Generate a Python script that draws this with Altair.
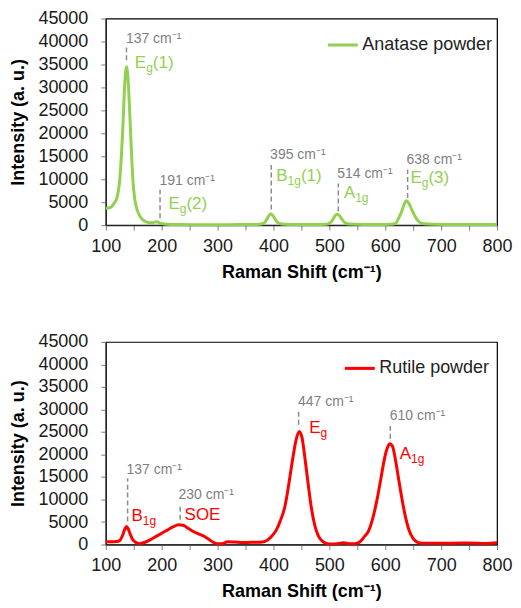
import altair as alt
import pandas as pd

FONT = "Liberation Sans"

# ---------------- data ----------------
ana_x = [100, 105, 110, 115, 120, 125, 130, 134, 137, 140,
         143, 147, 150, 155, 160, 165, 170, 175, 180, 185,
         191, 197, 205, 215, 230, 260, 300, 340, 370, 380,
         385, 390, 395, 400, 405, 410, 420, 440, 480, 495,
         500, 505, 510, 514, 518, 523, 528, 535, 560, 600,
         615, 620, 625, 630, 634, 638, 642, 647, 652, 657,
         662, 670, 690, 720, 760, 800]
ana_y = [3700, 3750, 4000, 4800, 6000, 10000, 20000, 31000, 34500, 31500,
         24000, 13000, 7500, 3800, 2200, 1300, 850, 600, 500, 550,
         750, 450, 250, 150, 120, 100, 100, 120, 150, 300,
         700, 1700, 2500, 1900, 900, 400, 200, 150, 150, 200,
         400, 1000, 2000, 2400, 2100, 1200, 500, 250, 150, 150,
         250, 600, 1800, 3200, 4600, 5300, 4800, 3500, 2200, 1200,
         600, 300, 200, 150, 150, 150]

rut_x = [100, 110, 120, 125, 130, 134, 137, 140, 144, 148,
         153, 160, 170, 180, 190, 200, 210, 220, 230, 238,
         245, 255, 265, 275, 285, 292, 300, 308, 318, 330,
         345, 360, 375, 385, 395, 405, 412, 420, 425, 430,
         435, 440, 446, 451, 456, 462, 468, 474, 480, 488,
         496, 505, 515, 525, 535, 545, 555, 563, 570, 578,
         585, 592, 598, 603, 608, 613, 618, 624, 629, 635,
         642, 650, 658, 665, 690, 720, 750, 780, 800]
rut_y = [600, 600, 650, 900, 2000, 3400, 4000, 3500, 2200, 1100,
         500, 200, 500, 1100, 1800, 2500, 3200, 3900, 4400, 4300,
         3800, 3000, 2400, 1900, 1100, 500, 150, 150, 600, 550,
         450, 500, 500, 700, 1600, 3200, 5200, 8200, 11500, 15500,
         19500, 23000, 25100, 23800, 19500, 13500, 8000, 4200, 2000, 700,
         200, 100, 200, 400, 200, 150, 600, 1800, 3000, 6000,
         9800, 14500, 18700, 21200, 22400, 21800, 19000, 14500, 10800, 6800,
         3400, 1300, 500, 300, 300, 300, 350, 250, 400]

# annotations (anatase)
ana_line_x = [137, 197, 396, 516, 640]
ana_line_lo = [35900, 1500, 3400, 3000, 5900]
ana_line_hi = [38700, 7700, 13100, 9100, 12100]
ana_wn = ["137", "191", "395", "514", "638"]
ana_wn_x = [136, 196, 394, 514, 638]
ana_wn_y = [40600, 9700, 15300, 11250, 14300]
ana_mode_base = ["E", "E", "B", "A", "E"]
ana_mode_sub = ["g", "g", "1g", "1g", "g"]
ana_mode_suf = ["(1)", "\u00a0(2)", "(1)", "", "\u00a0(3)"]
ana_mode_x = [152, 212, 405, 526, 645]
ana_mode_y = [35300, 4500, 10750, 6950, 10200]

# annotations (rutile)
rut_line_x = [139, 233, 445, 609]
rut_line_lo = [5100, 5500, 26600, 23500]
rut_line_hi = [14700, 8450, 30000, 26300]
rut_wn = ["137", "230", "447", "610"]
rut_wn_x = [137, 230, 444, 608]
rut_wn_y = [16500, 10900, 31600, 28500]
rut_mode_base = ["B", "SOE", "E", "A"]
rut_mode_sub = ["1g", "", "g", "1g"]
rut_mode_suf = ["", "", "", ""]
rut_mode_x = [146, 241, 464, 626]
rut_mode_y = [6250, 6600, 25900, 20200]

GREEN = "#92D050"
RED = "#FF0000"
GRAY = "#7F7F7F"

W_EM = {"E": 0.667, "B": 0.667, "A": 0.667, "S": 0.667, "O": 0.778,
        "g": 0.556, "1": 0.556, "(": 0.333, ")": 0.333, "\u00a0": 0.278}


def tw(s, size):
    return sum(W_EM.get(c, 0.556) for c in s) * size


X_SCALE = alt.Scale(domain=[100, 800], nice=False, zero=False)
Y_SCALE = alt.Scale(domain=[0, 45000], nice=False)

AX_COMMON = dict(labelFont=FONT, titleFont=FONT, labelFontSize=18,
                 titleFontSize=18, titleFontWeight="bold",
                 labelColor="#1A1A1A", titleColor="#000000",
                 domainColor="#262626", domainWidth=1.2, tickColor="#808080",
                 tickSize=5, tickWidth=1, grid=False)

x_axis = alt.Axis(title="Raman Shift (cm\u207b\u00b9)",
                  values=list(range(100, 801, 50)),
                  labelExpr="datum.value % 100 == 0 ? datum.label : ''",
                  labelPadding=7, titlePadding=8, labelOverlap=False,
                  labelFlush=False, **AX_COMMON)
y_axis = alt.Axis(title="Intensity (a. u.)",
                  values=list(range(0, 45001, 5000)), format="d",
                  labelPadding=13, titlePadding=10, labelOverlap=False,
                  labelFlush=False, **AX_COMMON)


def X(f):
    return alt.X(f, type="quantitative", scale=X_SCALE, axis=x_axis)


def Y(f):
    return alt.Y(f, type="quantitative", scale=Y_SCALE, axis=y_axis)


def panel(xs, ys, name, color, field, lx, llo, lhi, wn, wnx, wny,
          mbase, msub, msuf, mx, my, height, legx, legy):
    df = pd.DataFrame({"x": xs, "y": ys, field: [name] * len(xs)})
    line = alt.Chart(df).mark_line(strokeWidth=3, interpolate="monotone").encode(
        x=X("x"),
        y=Y("y"),
        color=alt.Color(f"{field}:N",
                        scale=alt.Scale(domain=[name], range=[color]),
                        legend=alt.Legend(title=None, orient="none",
                                          legendX=legx, legendY=legy,
                                          symbolType="stroke", symbolSize=900,
                                          symbolStrokeWidth=3,
                                          labelFontSize=18, labelFont=FONT,
                                          labelColor="#222222",
                                          labelOffset=3, padding=0)),
    )
    layers = [line]
    dl = pd.DataFrame({"x": lx, "y": llo, "hi": lhi})
    layers.append(alt.Chart(dl).mark_rule(color="#8C8C8C", strokeDash=[5, 3],
                                          strokeWidth=1.5).encode(
        x=X("x"), y=Y("y"), y2="hi:Q"))
    dw = pd.DataFrame({"x": wnx, "y": wny,
                       "t": [f"{s} cm\u207b\u00b9" for s in wn]})
    layers.append(alt.Chart(dw).mark_text(align="left", baseline="middle",
                                          font=FONT, fontSize=14,
                                          color=GRAY).encode(
        x=X("x"), y=Y("y"), text="t:N"))
    BS, SS = 17, 12
    for i in range(len(mbase)):
        d = pd.DataFrame({"x": [mx[i]], "y": [my[i]], "b": [mbase[i]],
                          "s": [msub[i]], "u": [msuf[i]]})
        base_w = tw(mbase[i], BS)
        layers.append(alt.Chart(d).mark_text(align="left", baseline="middle",
                                             font=FONT, fontSize=BS,
                                             color=color).encode(
            x=X("x"), y=Y("y"), text="b:N"))
        if msub[i]:
            layers.append(alt.Chart(d).mark_text(align="left", baseline="middle",
                                                 font=FONT, fontSize=SS,
                                                 dx=base_w, dy=5,
                                                 color=color).encode(
                x=X("x"), y=Y("y"), text="s:N"))
        if msuf[i]:
            layers.append(alt.Chart(d).mark_text(align="left", baseline="middle",
                                                 font=FONT, fontSize=BS,
                                                 dx=base_w + tw(msub[i], SS),
                                                 color=color).encode(
                x=X("x"), y=Y("y"), text="u:N"))
    return alt.layer(*layers).properties(width=392, height=height)


top = panel(ana_x, ana_y, "Anatase powder", GREEN, "s1",
            ana_line_x, ana_line_lo, ana_line_hi, ana_wn, ana_wn_x, ana_wn_y,
            ana_mode_base, ana_mode_sub, ana_mode_suf, ana_mode_x, ana_mode_y,
            207, 221, 10)
bottom = panel(rut_x, rut_y, "Rutile powder", RED, "s2",
               rut_line_x, rut_line_lo, rut_line_hi, rut_wn, rut_wn_x, rut_wn_y,
               rut_mode_base, rut_mode_sub, rut_mode_suf, rut_mode_x, rut_mode_y,
               203, 238, 10)

chart = alt.vconcat(top, bottom, spacing=50).resolve_scale(
    color="independent"
).properties(
    padding={"top": 0, "left": 1, "right": 0, "bottom": 0}
).configure_view(
    stroke="#000000", strokeWidth=1.2
)

chart.save("out.html", embed_options={"renderer": "svg", "actions": False})
